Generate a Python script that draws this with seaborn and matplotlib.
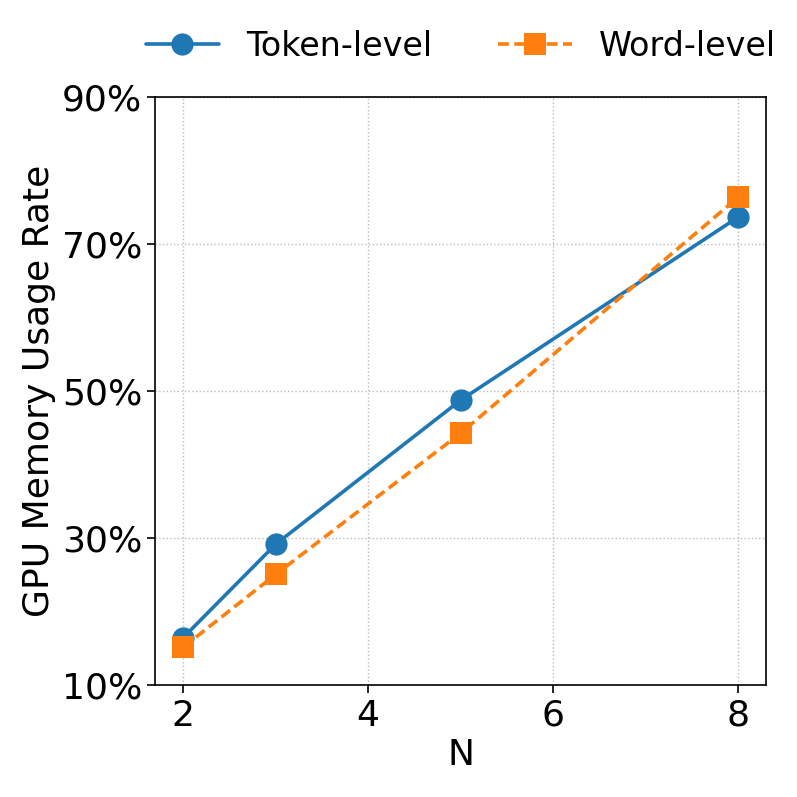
import matplotlib
matplotlib.use('Agg')
from matplotlib import pyplot as plt
from matplotlib.ticker import FuncFormatter
import seaborn as sns
import pandas as pd

# datos
n_vals = [2, 3, 5, 8]
token_level = [16.5, 29.2, 48.8, 73.7]
word_level = [15.2, 25.1, 44.3, 76.4]

df = pd.DataFrame({
    'N': n_vals * 2,
    'rate': token_level + word_level,
    'method': ['Token-level'] * 4 + ['Word-level'] * 4,
})

sns.set_style('ticks')
plt.rcParams['font.family'] = ['DejaVu Sans']
plt.rcParams['text.color'] = 'black'
plt.rcParams['axes.labelcolor'] = 'black'
plt.rcParams['xtick.color'] = 'black'
plt.rcParams['ytick.color'] = 'black'
plt.rcParams['axes.edgecolor'] = 'black'

fig, ax = plt.subplots(figsize=(7.97, 7.97), dpi=100)
palette = {'Token-level': '#1f77b4', 'Word-level': '#ff7f0e'}
sns.lineplot(data=df, x='N', y='rate', hue='method', style='method',
             markers={'Token-level': 'o', 'Word-level': 's'},
             dashes={'Token-level': '', 'Word-level': (3, 1.5)},
             palette=palette, linewidth=2.6, markersize=16,
             markeredgewidth=0, ax=ax)

ax.set_ylim(10, 90)
ax.set_yticks([10, 30, 50, 70, 90])
ax.yaxis.set_major_formatter(FuncFormatter(lambda v, p: f'{v:.0f}%'))
ax.set_xticks([2, 4, 6, 8])
ax.set_xlim(1.7, 8.3)
ax.tick_params(labelsize=26, length=6, width=1.2)
ax.set_xlabel('N', fontsize=26)
ax.set_ylabel('GPU Memory Usage Rate', fontsize=26)
ax.grid(True, linestyle=':', color='#bbbbbb', linewidth=1)
for s in ax.spines.values():
    s.set_linewidth(1.2)

ax.legend(loc='lower center', bbox_to_anchor=(0.5, 1.03), ncol=2, frameon=False,
          fontsize=24, handlelength=2.2, columnspacing=2.0, handletextpad=0.8,
          borderaxespad=0.1)

fig.subplots_adjust(left=0.195, right=0.961, top=0.878, bottom=0.14)
fig.savefig('out.png', dpi=100)
